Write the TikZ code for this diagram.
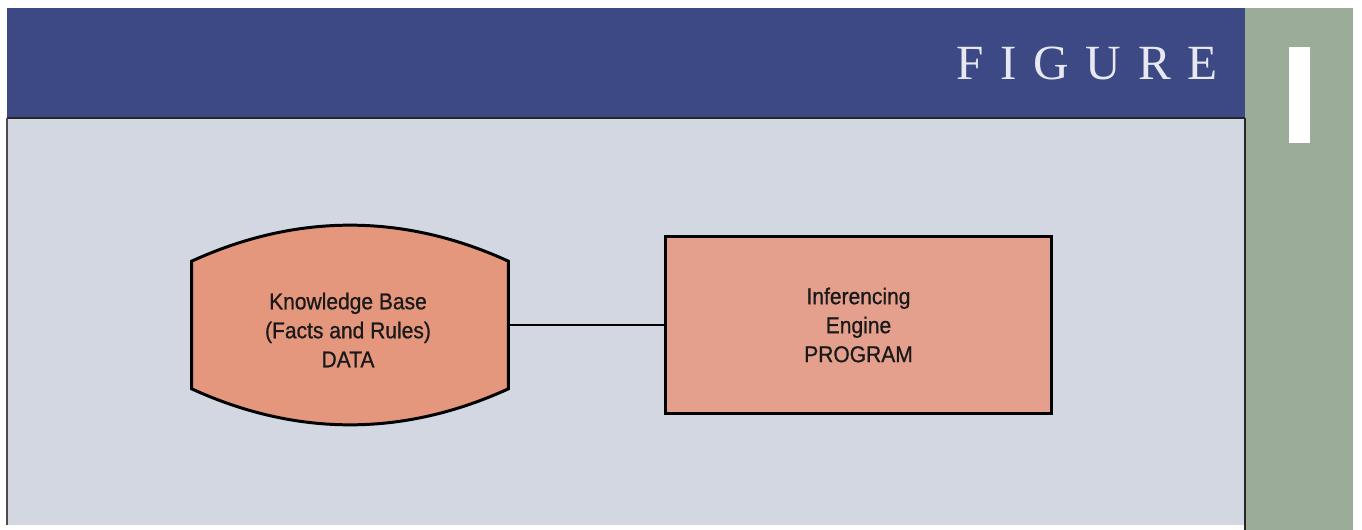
\documentclass[tikz,border=0pt]{standalone}
\usepackage{fontspec}
\setmainfont{Liberation Sans}
\newfontfamily\figserif[LetterSpace=34]{Liberation Serif}
\newfontfamily\blockfont[FakeStretch=0.92, FakeBold=0.8]{Liberation Sans}
\usetikzlibrary{calc}
\definecolor{headerblue}{RGB}{60,73,132}
\definecolor{panelgrey}{RGB}{211,215,226}
\definecolor{sidegreen}{RGB}{155,173,152}
\definecolor{kbsalmon}{RGB}{229,151,126}
\definecolor{iesalmon}{RGB}{228,160,140}
\definecolor{figwhite}{RGB}{232,232,240}
\tikzset{
    blocktext/.style={align=center, font=\blockfont\fontsize{13}{16.5}\selectfont, text=black!90},
    kbshape/.style={blocktext, minimum width=6.32cm, minimum height=2.54cm, inner sep=0pt},
    iebox/.style={blocktext, draw=black, line width=1.7pt, fill=iesalmon, minimum width=7.74cm, minimum height=3.56cm},
    outline/.style={draw=black, line width=1.7pt}
}
\begin{document}
\begin{tikzpicture}[x=0.02cm, y=-0.02cm]
        \newcommand{\figpanelleft}{7}
        \newcommand{\figpanelright}{1245}
        \newcommand{\figheadtop}{8}
        \newcommand{\figheadbottom}{118}
        \newcommand{\figpanelbottom}{525}
        \newcommand{\figbulge}{48}
        \useasboundingbox (0,0) rectangle (1362,530);
        \fill[white] (0,0) rectangle (1362,530);
        \fill[sidegreen] (\figpanelright,\figheadtop) rectangle (1353,530);
        \fill[white] (1289,47) rectangle (1310,143);
        \fill[headerblue] (\figpanelleft,\figheadtop) rectangle (\figpanelright,\figheadbottom);
        \fill[panelgrey] (\figpanelleft,\figheadbottom) rectangle (\figpanelright,\figpanelbottom);
        \draw[black!85, line width=0.9pt] (\figpanelleft,\figheadbottom) -- (\figpanelright,\figheadbottom);
        \draw[black!70, line width=0.6pt] (\figpanelleft,\figheadbottom) -- (\figpanelleft,\figpanelbottom);
        \draw[black!85, line width=0.6pt] (\figpanelright,\figheadbottom) -- (\figpanelright,530);
        \node[anchor=base east, text=figwhite, font=\figserif\fontsize{28}{28}\selectfont, inner sep=0pt] (title) at (1218,80) {FIGURE};
        \node[kbshape] (kb) at (350,325) {};
        \draw[outline, fill=kbsalmon] (kb.south west) -- (kb.north west)
            .. controls +(105,-\figbulge) and +(-105,-\figbulge) .. (kb.north east)
            -- (kb.south east)
            .. controls +(-105,\figbulge) and +(105,\figbulge) .. cycle;
        \node[blocktext] at (348,330) {Knowledge Base\\(Facts and Rules)\\DATA};
        \node[iebox] (ie) at (858.5,325) {Inferencing\\Engine\\PROGRAM};
        \draw[black, line width=1.1pt] (kb.east) -- (ie.west);
    \end{tikzpicture}
\end{document}
